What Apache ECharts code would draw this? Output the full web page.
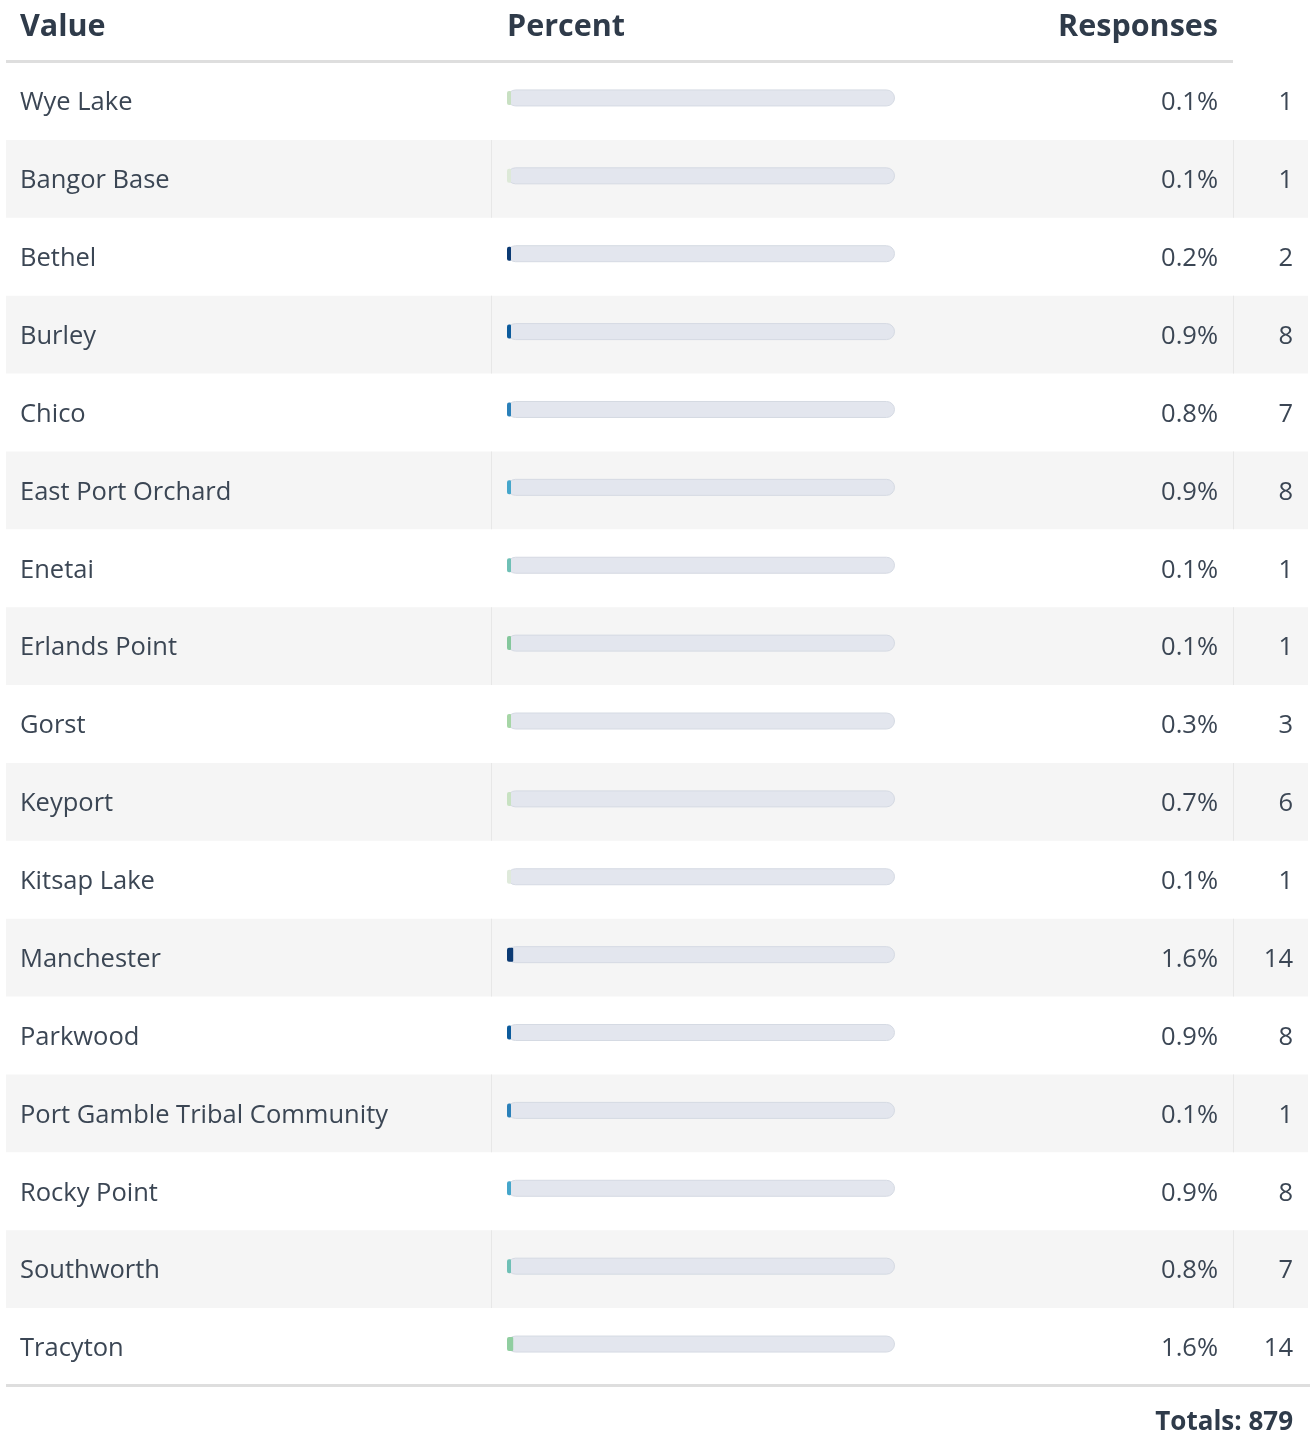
<!DOCTYPE html>
<html>
<head>
<meta charset="utf-8">
<script src="https://cdn.jsdelivr.net/npm/echarts@6/dist/echarts.min.js"></script>
<style>
  html, body { margin: 0; padding: 0; background: #fff; }
  #main { width: 1310px; height: 1435px; }
</style>
</head>
<body>
<div id="main"></div>
<script>
// 表格数据
const names = ['Wye Lake', 'Bangor Base', 'Bethel', 'Burley', 'Chico', 'East Port Orchard', 'Enetai',
  'Erlands Point', 'Gorst', 'Keyport', 'Kitsap Lake', 'Manchester', 'Parkwood',
  'Port Gamble Tribal Community', 'Rocky Point', 'Southworth', 'Tracyton'];
const percents = [0.1, 0.1, 0.2, 0.9, 0.8, 0.9, 0.1, 0.1, 0.3, 0.7, 0.1, 1.6, 0.9, 0.1, 0.9, 0.8, 1.6];
const counts = [1, 1, 2, 8, 7, 8, 1, 1, 3, 6, 1, 14, 8, 1, 8, 7, 14];
const total = 879;
const headers = ['Value', 'Percent', 'Responses'];
const rowColors = ['#c8e0c2', '#dde9d8', '#0b3a73', '#0c5b9c', '#2a80b9', '#45a6cb', '#6fc0b6',
  '#84c79c', '#a6d6a6', '#c8e2c2', '#dfeadb', '#0b3a73', '#0c5b9c', '#2a80b9', '#45a6cb', '#6fc0b6', '#90cea0'];

const FONT = '"Open Sans", "Noto Sans", sans-serif';
const TEXT = '#3b4654';
const HEAD = '#2f3b4a';
const SIZE = 25.5;

var myChart = echarts.init(document.getElementById('main'));

const rowIdx = names.map((n, i) => i);
const hiddenCat = (g) => ({
  gridIndex: g, type: 'category', data: names, inverse: true, show: false
});

var option = {
  animation: false,
  textStyle: { fontFamily: FONT },
  grid: [
    // 整行背景
    { left: 6, width: 1302, top: 62, height: 1324 },
    // 文字列
    { left: 507, width: 388, top: 64, height: 1324 },
    // 进度条（略微上移）
    { left: 507, width: 388, top: 59, height: 1324 }
  ],
  xAxis: [
    { gridIndex: 0, type: 'value', min: 0, max: 1302, show: false },
    { gridIndex: 1, type: 'value', min: 0, max: 100, show: false },
    { gridIndex: 2, type: 'value', min: 0, max: 100, show: false }
  ],
  yAxis: [
    {
      gridIndex: 1, type: 'category', data: names, inverse: true, position: 'left',
      axisLine: { show: false }, axisTick: { show: false }, splitLine: { show: false },
      axisLabel: { margin: 487, align: 'left', fontSize: SIZE, color: TEXT, fontFamily: FONT }
    },
    {
      gridIndex: 1, type: 'category', data: names, inverse: true, position: 'right', offset: 0,
      axisLine: { show: false }, axisTick: { show: false }, splitLine: { show: false },
      axisLabel: {
        margin: 323, align: 'right', fontSize: SIZE, color: TEXT, fontFamily: FONT,
        formatter: (v, i) => percents[i].toFixed(1) + '%'
      }
    },
    {
      gridIndex: 1, type: 'category', data: names, inverse: true, position: 'right', offset: 0,
      axisLine: { show: false }, axisTick: { show: false }, splitLine: { show: false },
      axisLabel: {
        margin: 398, align: 'right', fontSize: SIZE, color: TEXT, fontFamily: FONT,
        formatter: (v, i) => String(counts[i])
      }
    },
    hiddenCat(0),
    hiddenCat(2),
    Object.assign(hiddenCat(2), { position: 'right' })
  ],
  series: [
    {
      // 斑马纹和分隔线
      type: 'custom',
      xAxisIndex: 0,
      yAxisIndex: 3,
      data: rowIdx,
      silent: true,
      z: 0,
      renderItem: function (params, api) {
        var i = api.value(0);
        if (i % 2 === 0) return null;
        var h = api.size([0, 1])[1];
        var p0 = api.coord([0, i]);
        var p1 = api.coord([1302, i]);
        var top = p0[1] - h / 2;
        var sepA = api.coord([485, i])[0];
        var sepB = api.coord([1227, i])[0];
        return {
          type: 'group',
          children: [
            { type: 'rect', shape: { x: p0[0], y: top, width: p1[0] - p0[0], height: h }, style: { fill: '#f5f5f5' } },
            { type: 'rect', shape: { x: sepA, y: top, width: 1, height: h }, style: { fill: '#e7e7e7' } },
            { type: 'rect', shape: { x: sepB, y: top, width: 1, height: h }, style: { fill: '#e7e7e7' } }
          ]
        };
      }
    },
    {
      // 进度条底槽
      type: 'bar',
      xAxisIndex: 2,
      yAxisIndex: 4,
      data: names.map(() => 100),
      barWidth: 17,
      silent: true,
      z: 2,
      itemStyle: { color: '#e3e6ee', borderColor: '#d5dae3', borderWidth: 1, borderRadius: 9 }
    },
    {
      // 进度条填充
      type: 'bar',
      xAxisIndex: 2,
      yAxisIndex: 5,
      data: percents.map((p, i) => ({ value: p, itemStyle: { color: rowColors[i] } })),
      barWidth: 14,
      barMinHeight: 4,
      silent: true,
      z: 3,
      itemStyle: { borderRadius: [2, 1, 1, 2] }
    }
  ],
  graphic: [
    { type: 'text', left: 20, top: 12, style: { text: headers[0], font: 'bold 30.5px ' + FONT, fill: HEAD } },
    { type: 'text', left: 507, top: 12, style: { text: headers[1], font: 'bold 30.5px ' + FONT, fill: HEAD } },
    { type: 'text', right: 1310 - 1218, top: 12, style: { text: headers[2], font: 'bold 30.5px ' + FONT, fill: HEAD } },
    { type: 'rect', shape: { x: 6, y: 60, width: 1227, height: 3 }, style: { fill: '#dedede' } },
    { type: 'rect', shape: { x: 6, y: 1384, width: 1304, height: 3 }, style: { fill: '#dedede' } },
    { type: 'text', right: 1310 - 1293, top: 1410, style: { text: 'Totals: ' + total, font: 'bold 26px ' + FONT, fill: HEAD } }
  ]
};

myChart.setOption(option);
window.onresize = () => { myChart.resize(); };
</script>
</body>
</html>
